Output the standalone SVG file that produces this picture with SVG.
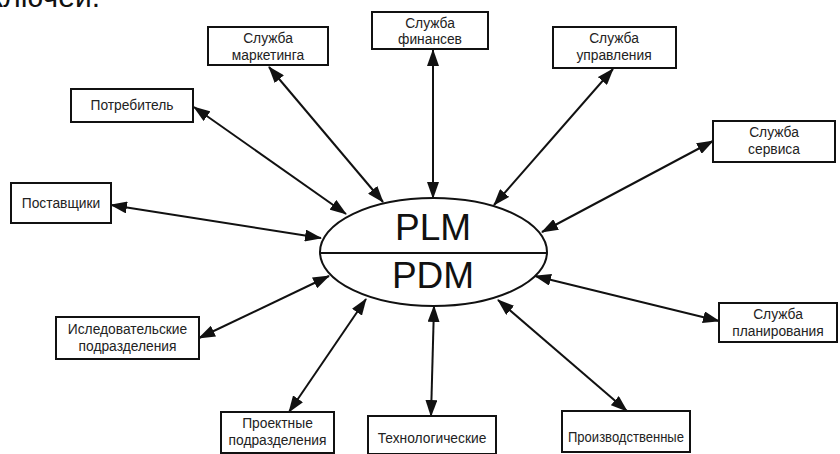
<svg xmlns="http://www.w3.org/2000/svg" width="840" height="454" viewBox="0 0 840 454">
  <style>
    .box { fill: #fff; stroke: #111; stroke-width: 2; }
    .lbl { font-family: "Liberation Sans", Arial, sans-serif; font-size: 13.8px; fill: #222; text-anchor: middle; }
    .big { font-family: "Liberation Sans", Arial, sans-serif; font-size: 37px; fill: #111; text-anchor: middle; }
    .link { stroke: #111; stroke-width: 2; fill: none; marker-start: url(#head); marker-end: url(#head); }
  </style>
  <defs>
    <marker id="head" viewBox="0 0 17 12" refX="16" refY="6" markerWidth="17" markerHeight="12" markerUnits="userSpaceOnUse" orient="auto-start-reverse">
      <path d="M0,0 L17,6 L0,12 z" fill="#111"/>
    </marker>
  </defs>
  <rect width="840" height="454" fill="#fff"/>

  <!-- tail of the preceding paragraph, cut at the top edge -->
  <text x="100" y="7" font-family="Liberation Sans, Arial, sans-serif" font-size="30" text-anchor="end" fill="#111">ключей.</text>

  <!-- connectors -->
  <g id="connectors">
    <line class="link" x1="269" y1="67" x2="383" y2="202"/>
    <line class="link" x1="194" y1="107" x2="346" y2="214"/>
    <line class="link" x1="433" y1="50" x2="433" y2="198"/>
    <line class="link" x1="613" y1="69" x2="494" y2="205"/>
    <line class="link" x1="713" y1="141" x2="542" y2="232"/>
    <line class="link" x1="111" y1="205" x2="321" y2="238"/>
    <line class="link" x1="199" y1="338" x2="329" y2="276"/>
    <line class="link" x1="289" y1="412" x2="366" y2="299"/>
    <line class="link" x1="431" y1="416" x2="434" y2="306"/>
    <line class="link" x1="627" y1="411" x2="498" y2="300"/>
    <line class="link" x1="719" y1="321" x2="535" y2="276"/>
  </g>

  <!-- central system -->
  <g id="plm-pdm">
    <ellipse cx="433.5" cy="252" rx="113.5" ry="54" fill="#fff" stroke="#111" stroke-width="2"/>
    <line x1="320" y1="253" x2="547" y2="253" stroke="#111" stroke-width="2"/>
    <text class="big" x="433" y="240">PLM</text>
    <text class="big" x="433" y="288">PDM</text>
  </g>

  <g id="marketing">
    <rect class="box" x="208" y="27" width="120" height="38"/>
    <text class="lbl" x="268" y="43">Служба</text>
    <text class="lbl" x="268" y="60">маркетинга</text>
  </g>
  <g id="finance">
    <rect class="box" x="372" y="12" width="116" height="37"/>
    <text class="lbl" x="430" y="28">Служба</text>
    <text class="lbl" x="430" y="44">финансев</text>
  </g>
  <g id="management">
    <rect class="box" x="553" y="27" width="123" height="41"/>
    <text class="lbl" x="614" y="43">Служба</text>
    <text class="lbl" x="614" y="60">управления</text>
  </g>
  <g id="consumer">
    <rect class="box" x="71" y="89" width="122" height="33"/>
    <text class="lbl" x="132" y="110">Потребитель</text>
  </g>
  <g id="suppliers">
    <rect class="box" x="11" y="183" width="100" height="40"/>
    <text class="lbl" x="61" y="208">Поставщики</text>
  </g>
  <g id="service">
    <rect class="box" x="713" y="121" width="122" height="41"/>
    <text class="lbl" x="774" y="137">Служба</text>
    <text class="lbl" x="774" y="154">сервиса</text>
  </g>
  <g id="research">
    <rect class="box" x="56" y="317" width="143" height="42"/>
    <text class="lbl" x="127.5" y="334">Иследовательские</text>
    <text class="lbl" x="127.5" y="351">подразделения</text>
  </g>
  <g id="planning">
    <rect class="box" x="719" y="303" width="118" height="39"/>
    <text class="lbl" x="778" y="319">Служба</text>
    <text class="lbl" x="778" y="336">планирования</text>
  </g>
  <g id="design">
    <rect class="box" x="221" y="412" width="113" height="41"/>
    <text class="lbl" x="277.5" y="428">Проектные</text>
    <text class="lbl" x="277.5" y="445">подразделения</text>
  </g>
  <g id="technology">
    <rect class="box" x="368" y="416" width="128" height="38"/>
    <text class="lbl" x="432" y="443">Технологические</text>
  </g>
  <g id="production">
    <rect class="box" x="562" y="411" width="128" height="41"/>
    <text class="lbl" x="626" y="442" textLength="116" lengthAdjust="spacingAndGlyphs">Производственные</text>
  </g>
</svg>
